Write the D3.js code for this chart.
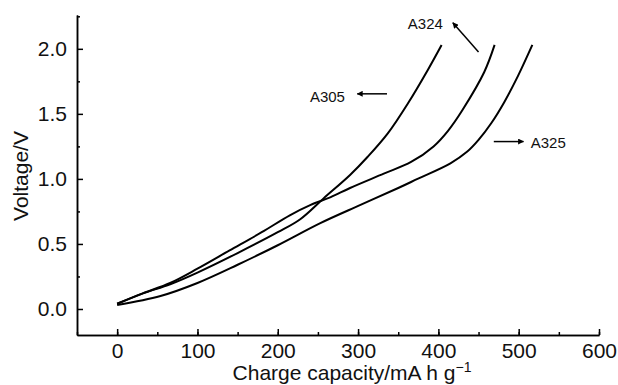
<!DOCTYPE html>
<html>
<head>
<meta charset="utf-8">
<script src="https://cdn.jsdelivr.net/npm/d3@7"></script>
<style>
  body { margin: 0; background: #fff; }
  svg { display: block; font-family: "Liberation Sans", Arial, sans-serif; }
  .axis path, .axis line { stroke: #000; stroke-width: 1.5; }
  .axis text { font-size: 21px; fill: #111; }
  .curve { fill: none; stroke: #000; stroke-width: 2; }
</style>
</head>
<body>
<svg id="chart" width="618" height="385"></svg>
<script>
// charge capacity (mA h/g) and voltage (V) for each sample
var a305Cap = [0, 32, 66, 100, 150, 200, 228, 257, 290, 312, 337, 362, 387, 404];
var a305Volt = [0.04, 0.12, 0.19, 0.28, 0.43, 0.59, 0.69, 0.85, 1.03, 1.17, 1.35, 1.58, 1.84, 2.03];

var a324Cap = [0, 32, 66, 100, 140, 180, 215, 241, 266, 290, 332, 366, 394, 412, 430, 457, 470];
var a324Volt = [0.04, 0.12, 0.20, 0.31, 0.45, 0.59, 0.72, 0.80, 0.86, 0.93, 1.04, 1.13, 1.25, 1.37, 1.53, 1.82, 2.03];

var a325Cap = [0, 54, 100, 150, 200, 253, 303, 350, 374, 415, 436, 450, 466, 482, 499, 517];
var a325Volt = [0.03, 0.10, 0.20, 0.34, 0.49, 0.66, 0.80, 0.93, 1.00, 1.12, 1.21, 1.30, 1.43, 1.59, 1.79, 2.03];

var xTicks = [0, 100, 200, 300, 400, 500, 600];
var yTicks = [0.0, 0.5, 1.0, 1.5, 2.0];

// label text, label anchor (data units), arrow from/to (data units)
var labels = [
  { name: 'A324', x: 362, y: 2.15, ax1: 450, ay1: 1.975, ax2: 418, ay2: 2.20 },
  { name: 'A305', x: 240, y: 1.59, ax1: 336, ay1: 1.654, ax2: 299, ay2: 1.654 },
  { name: 'A325', x: 515, y: 1.24, ax1: 469, ay1: 1.287, ax2: 506, ay2: 1.287 }
];

var svg = d3.select('#chart');

var x = d3.scaleLinear().domain([-50, 600]).range([77, 599]);
var y = d3.scaleLinear().domain([-0.2, 2.26]).range([335, 15]);

// minor ticks first
svg.append('g')
  .attr('class', 'axis')
  .attr('transform', 'translate(0,335)')
  .call(d3.axisBottom(x).tickValues(d3.range(-50, 601, 50)).tickSize(-3).tickSizeOuter(0).tickFormat(''));
svg.append('g')
  .attr('class', 'axis')
  .attr('transform', 'translate(77,0)')
  .call(d3.axisLeft(y).tickValues([0.25, 0.75, 1.25, 1.75, 2.25]).tickSize(-3).tickSizeOuter(0).tickFormat(''));

svg.append('g')
  .attr('class', 'axis')
  .attr('transform', 'translate(0,335)')
  .call(d3.axisBottom(x).tickValues(xTicks).tickSize(-6).tickSizeOuter(0).tickPadding(8));

svg.append('g')
  .attr('class', 'axis')
  .attr('transform', 'translate(77,0)')
  .call(d3.axisLeft(y).tickValues(yTicks).tickSize(-6).tickSizeOuter(0).tickPadding(10).tickFormat(d3.format('.1f')));

// axis titles
var xt = svg.append('text')
  .attr('x', 352)
  .attr('y', 380)
  .attr('text-anchor', 'middle')
  .attr('font-size', 21)
  .attr('fill', '#111')
  .text('Charge capacity/mA h g');
xt.append('tspan').attr('dy', -8).attr('font-size', 14).text('\u22121');

svg.append('text')
  .attr('transform', 'translate(28,176) rotate(-90)')
  .attr('text-anchor', 'middle')
  .attr('font-size', 21)
  .attr('fill', '#111')
  .text('Voltage/V');

// curves
var line = d3.line()
  .x(function(d) { return x(d[0]); })
  .y(function(d) { return y(d[1]); })
  .curve(d3.curveCatmullRom);

[[a305Cap, a305Volt], [a324Cap, a324Volt], [a325Cap, a325Volt]].forEach(function(s) {
  svg.append('path')
    .attr('class', 'curve')
    .attr('d', line(d3.zip(s[0], s[1])));
});

// arrow marker
svg.append('defs').append('marker')
  .attr('id', 'head')
  .attr('viewBox', '0 0 10 10')
  .attr('refX', 9).attr('refY', 5)
  .attr('markerWidth', 6).attr('markerHeight', 6)
  .attr('markerUnits', 'userSpaceOnUse')
  .attr('orient', 'auto')
  .append('path')
  .attr('d', 'M0,0L10,5L0,10Z')
  .attr('fill', '#000');

labels.forEach(function(l) {
  svg.append('text')
    .attr('x', x(l.x))
    .attr('y', y(l.y))
    .attr('font-size', 15)
    .attr('fill', '#111')
    .text(l.name);
  svg.append('line')
    .attr('x1', x(l.ax1)).attr('y1', y(l.ay1))
    .attr('x2', x(l.ax2)).attr('y2', y(l.ay2))
    .attr('stroke', '#000')
    .attr('stroke-width', 1.5)
    .attr('marker-end', 'url(#head)');
});
</script>
</body>
</html>
